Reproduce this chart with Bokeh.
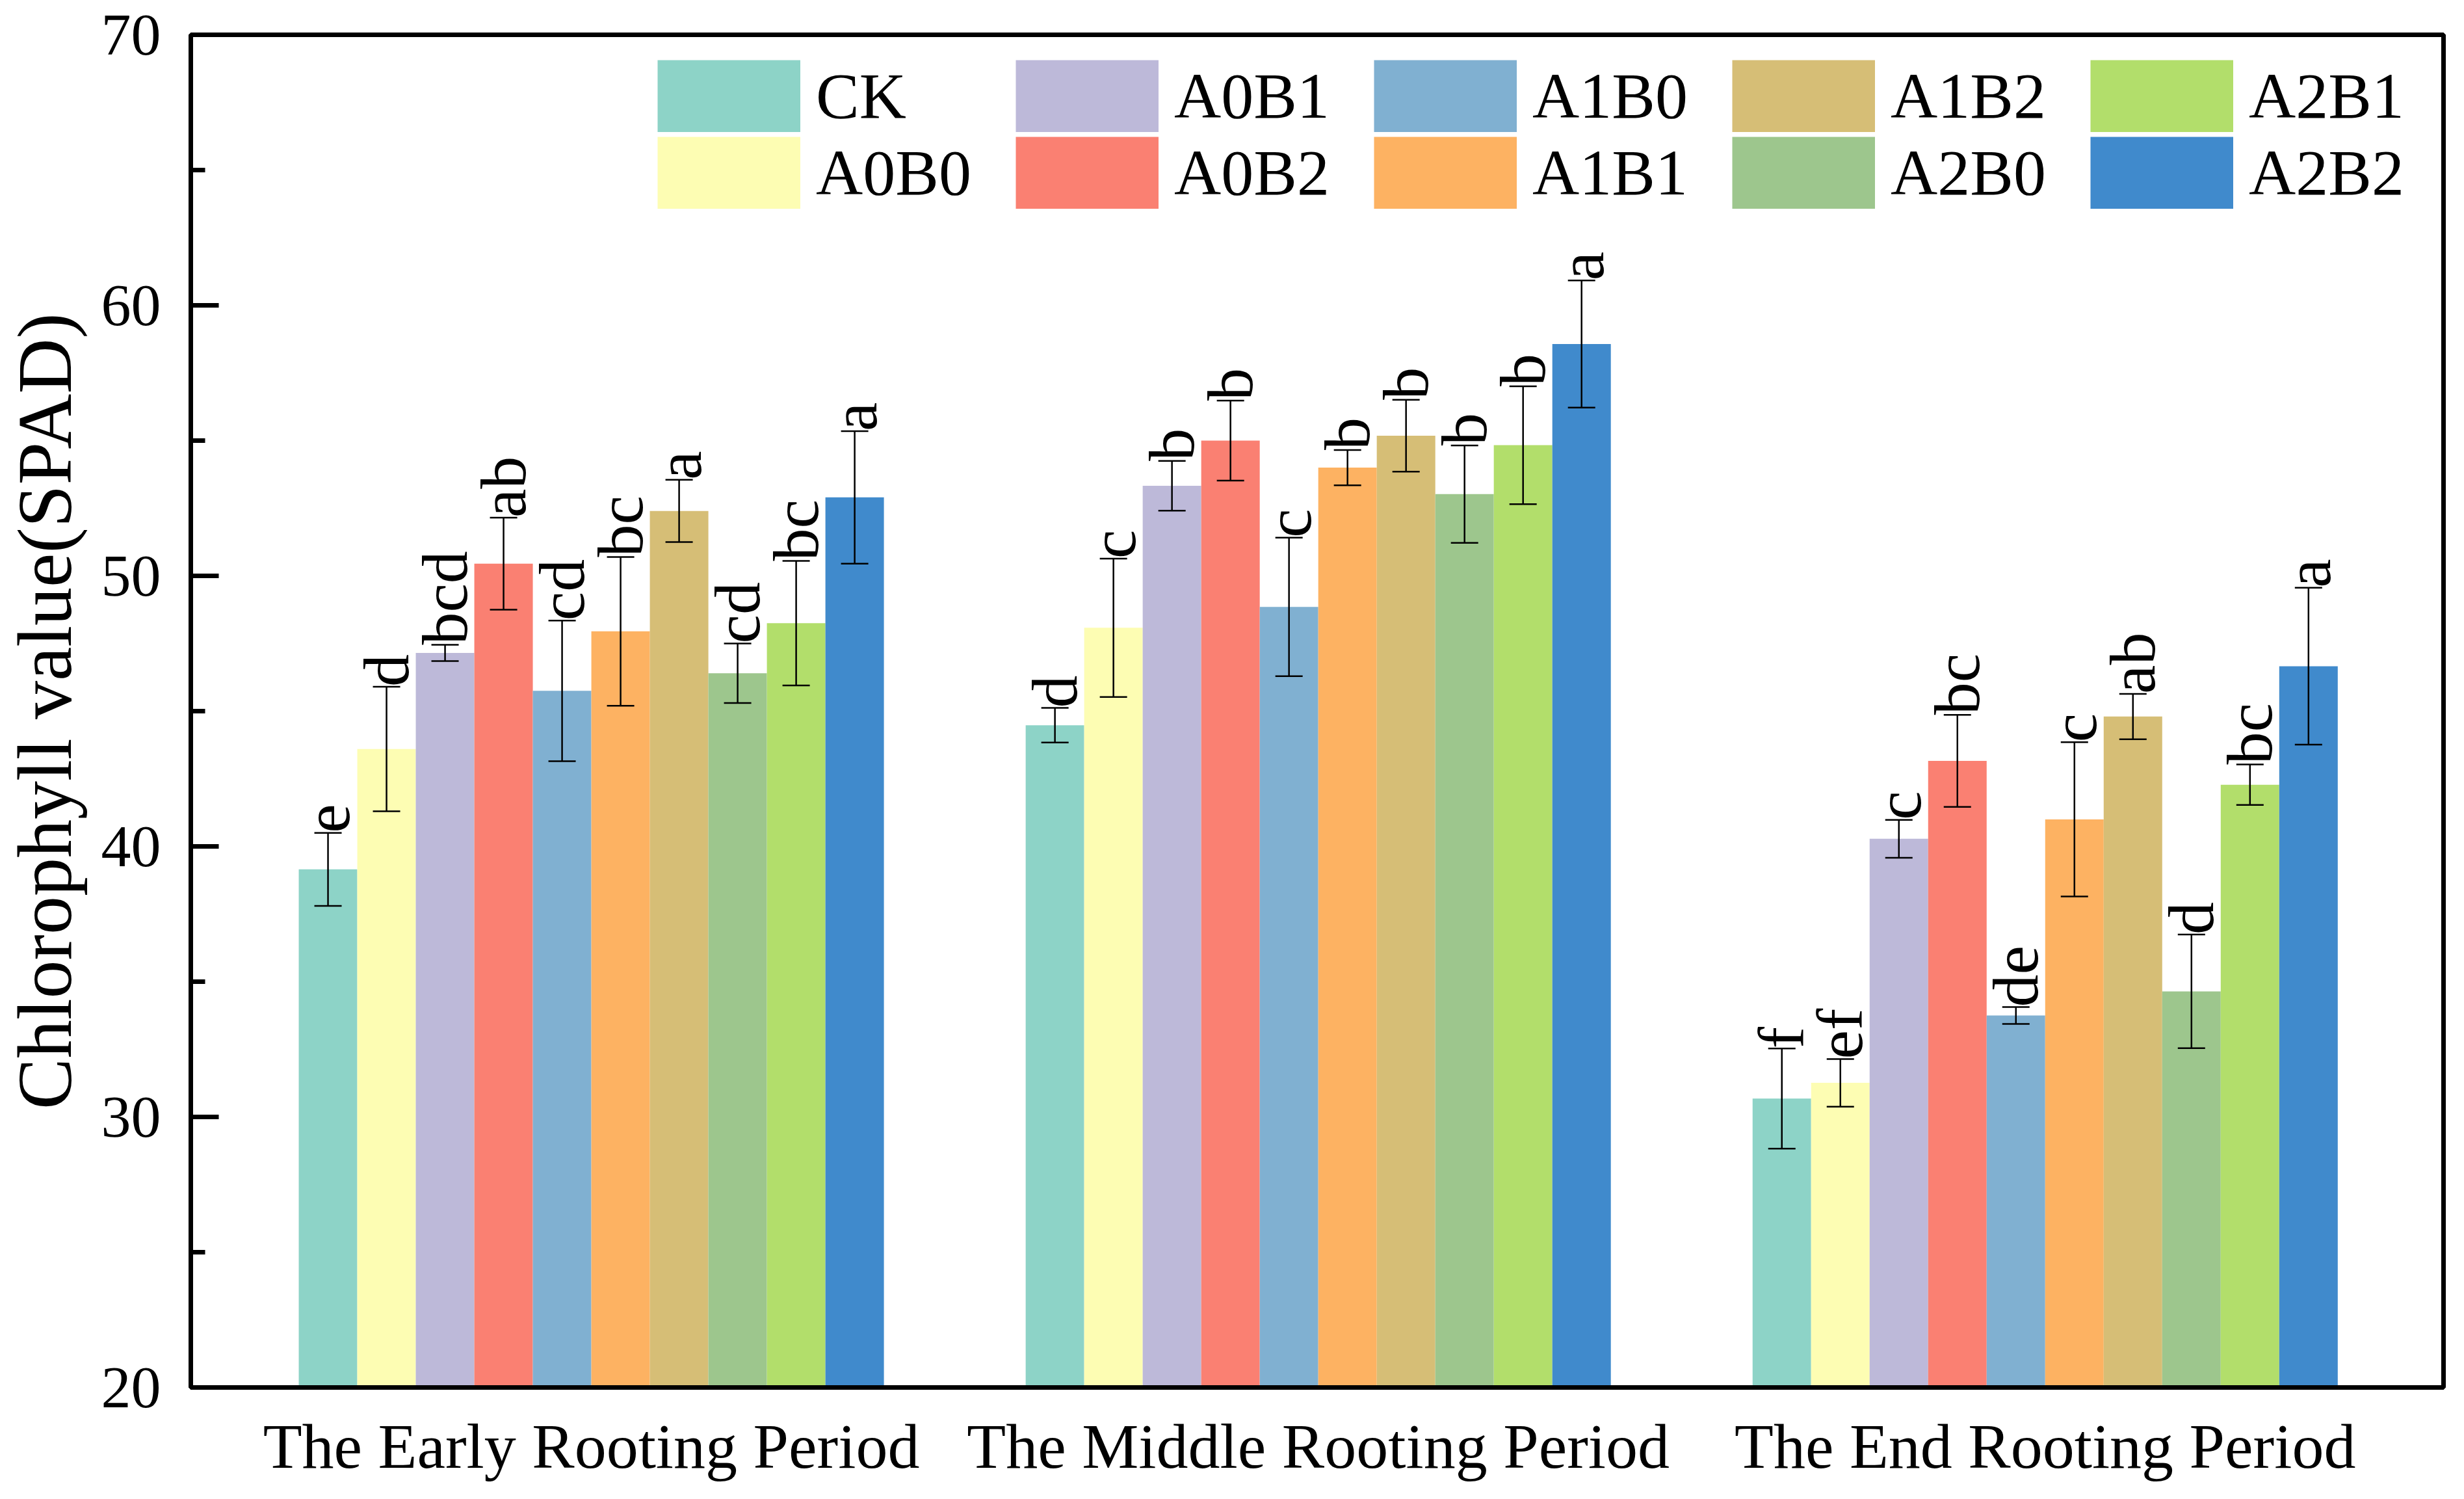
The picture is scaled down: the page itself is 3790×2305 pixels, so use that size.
import math
from bokeh.plotting import figure
from bokeh.models import Range1d, FixedTicker, SingleIntervalTicker, Whisker, TeeHead, ColumnDataSource
from bokeh.core.properties import value
from bokeh.embed import file_html
from bokeh.resources import INLINE

periods = ["The Early Rooting Period", "The Middle Rooting Period", "The End Rooting Period"]
treatments = ["CK", "A0B0", "A0B1", "A0B2", "A1B0", "A1B1", "A1B2", "A2B0", "A2B1", "A2B2"]
colors = ["#8DD3C7", "#FDFDB3", "#BDB9D9", "#FA8072", "#80B0D1", "#FDB262",
          "#D6BE76", "#9DC68D", "#B2DE6B", "#408ACC"]

early_mean = [39.15, 43.60, 47.15, 50.45, 45.75, 47.95, 52.40, 46.40, 48.25, 52.90]
early_err = [1.35, 2.30, 0.30, 1.70, 2.60, 2.75, 1.15, 1.10, 2.30, 2.45]
early_letters = ["e", "d", "bcd", "ab", "cd", "bc", "a", "cd", "bc", "a"]

middle_mean = [44.48, 48.08, 53.33, 55.00, 48.85, 54.00, 55.18, 53.02, 54.83, 58.57]
middle_err = [0.64, 2.56, 0.92, 1.48, 2.56, 0.65, 1.33, 1.80, 2.18, 2.35]
middle_letters = ["d", "c", "b", "b", "c", "b", "b", "b", "b", "a"]

end_mean = [30.68, 31.26, 40.28, 43.16, 33.75, 41.00, 44.80, 34.64, 42.28, 46.66]
end_err = [1.85, 0.88, 0.70, 1.70, 0.31, 2.85, 0.84, 2.10, 0.75, 2.90]
end_letters = ["f", "ef", "c", "bc", "de", "c", "ab", "d", "bc", "a"]

means = [early_mean, middle_mean, end_mean]
errs = [early_err, middle_err, end_err]
letters = [early_letters, middle_letters, end_letters]

FONT = "Liberation Serif"
bar_w = 0.0805

p = figure(frame_width=3465, frame_height=2080,
           x_range=Range1d(-0.551, 2.548), y_range=Range1d(20, 70),
           output_backend="svg", toolbar_location=None,
           min_border_left=288, min_border_right=20, min_border_top=53, min_border_bottom=140)
p.xgrid.visible = False
p.ygrid.visible = False
p.outline_line_color = "black"
p.outline_line_width = 7
p.background_fill_color = "white"
p.border_fill_color = "white"

for j, name in enumerate(treatments):
    xs = [g + (j - 4.5) * bar_w for g in range(len(periods))]
    tops = [means[g][j] for g in range(len(periods))]
    ups = [means[g][j] + errs[g][j] for g in range(len(periods))]
    los = [means[g][j] - errs[g][j] for g in range(len(periods))]
    labs = [letters[g][j] for g in range(len(periods))]
    src = ColumnDataSource(dict(x=xs, top=tops, upper=ups, lower=los, lab=labs))
    p.vbar(x="x", width=bar_w, top="top", bottom=20, source=src,
           fill_color=colors[j], line_color=None)
    # legend proxy: a zero-length, off-range thick line -> solid block in the legend
    p.line(x=[0, 0], y=[0, 0], line_color=colors[j], line_width=111, line_cap="butt",
           legend_label=name)
    w = Whisker(source=src, base="x", upper="upper", lower="lower", level="overlay",
                line_color="black", line_width=2.5,
                upper_head=TeeHead(size=42, line_color="black", line_width=2.5),
                lower_head=TeeHead(size=42, line_color="black", line_width=2.5))
    p.add_layout(w)
    p.text(x="x", y="upper", text="lab", source=src, angle=math.pi / 2,
           text_align="left", text_baseline="middle",
           text_font=value(FONT), text_font_size="100px", text_color="black")

# axes
p.xaxis.ticker = FixedTicker(ticks=[0, 1, 2])
p.xaxis.major_label_overrides = {i: periods[i] for i in range(len(periods))}
p.xaxis.major_tick_line_color = None
p.xaxis.minor_tick_line_color = None
p.xaxis.axis_line_width = 7
p.xaxis.major_label_text_font = FONT
p.xaxis.major_label_text_font_size = "98px"
p.xaxis.major_label_text_color = "black"
p.xaxis.major_label_standoff = 30

p.yaxis.ticker = SingleIntervalTicker(interval=10, num_minor_ticks=2)
p.yaxis.axis_line_width = 7
p.yaxis.major_tick_in = 43
p.yaxis.major_tick_out = 0
p.yaxis.minor_tick_in = 22
p.yaxis.minor_tick_out = 0
p.yaxis.major_tick_line_width = 7
p.yaxis.minor_tick_line_width = 7
p.yaxis.major_label_text_font = FONT
p.yaxis.major_label_text_font_size = "92px"
p.yaxis.major_label_text_color = "black"
p.yaxis.major_label_standoff = 46
p.yaxis.axis_label = "Chlorophyll value(SPAD)"
p.yaxis.axis_label_text_font = FONT
p.yaxis.axis_label_text_font_size = "118px"
p.yaxis.axis_label_text_font_style = "normal"
p.yaxis.axis_label_text_color = "black"
p.yaxis.axis_label_standoff = 18

leg = p.legend[0]
leg.location = (718, 1810)
leg.orientation = "vertical"
leg.nrows = 2
leg.glyph_width = 220
leg.glyph_height = 111
leg.label_height = 111
leg.label_standoff = 24
leg.label_width = 304
leg.spacing = 3
leg.padding = 0
leg.margin = 0
leg.border_line_alpha = 0
leg.background_fill_alpha = 0
leg.label_text_font = FONT
leg.label_text_font_size = "100px"
leg.label_text_color = "black"

open("out.html", "w").write(file_html(p, INLINE))
